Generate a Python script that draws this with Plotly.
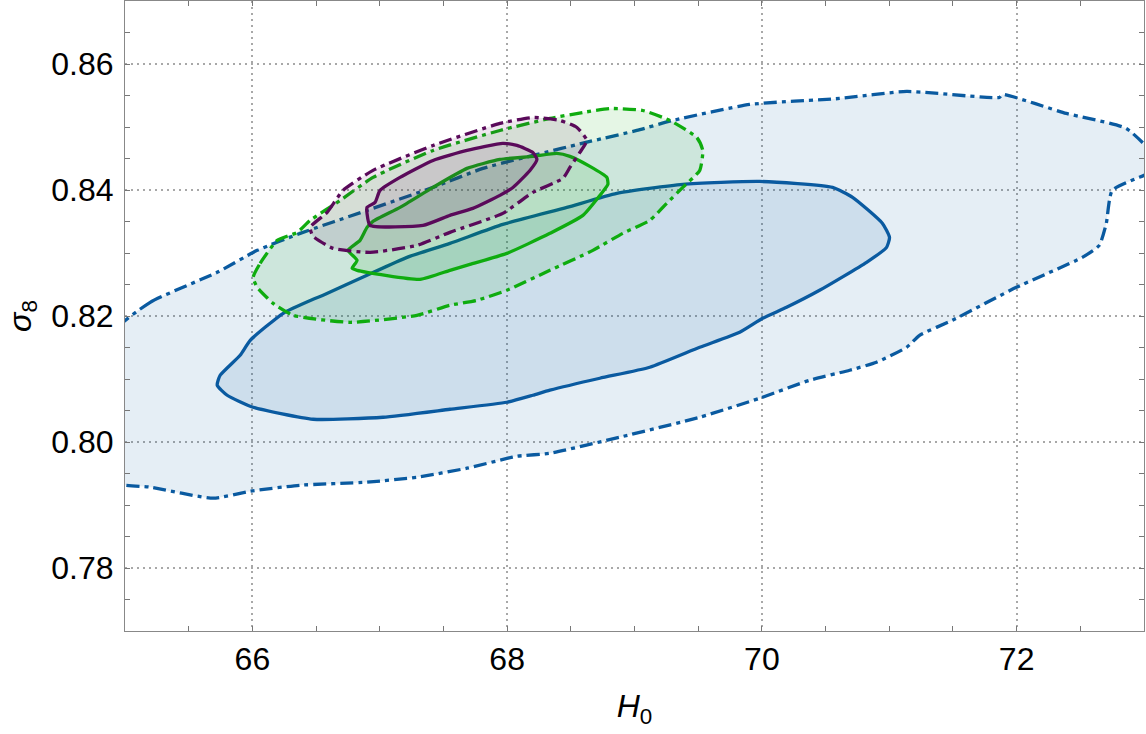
import plotly.graph_objects as go

# ---- data (H0, sigma8) ----
blue_outer_h0 = [64.885, 65.198, 65.724, 66.038, 66.375, 66.900, 67.418, 67.810, 68.202, 68.650,
                 69.018, 69.300, 69.904, 70.610, 71.136, 71.865, 71.889, 72.390, 72.861, 73.120,
                 73.120, 72.751, 72.704, 72.649, 72.516, 71.998, 71.496, 71.238, 71.136, 70.900,
                 70.689, 70.375, 69.983, 69.512, 68.883, 68.336, 68.077, 68.006, 67.685, 67.292,
                 66.900, 66.375, 65.983, 65.693, 65.198, 64.885]
blue_outer_s8 = [0.8169, 0.82217, 0.82693, 0.83042, 0.83312, 0.83676, 0.84041, 0.84343, 0.84549, 0.84771,
                 0.84945, 0.85104, 0.85358, 0.85453, 0.85564, 0.85469, 0.85516, 0.85215, 0.84977, 0.84461,
                 0.84349, 0.83994, 0.83470, 0.83121, 0.82931, 0.82455, 0.81932, 0.81694, 0.81503, 0.81266,
                 0.81139, 0.80980, 0.80695, 0.80393, 0.80076, 0.79822, 0.79774, 0.79743, 0.79584, 0.79441,
                 0.79362, 0.79314, 0.79219, 0.79108, 0.79283, 0.7938]

blue_inner_h0 = [66.477, 66.555, 66.900, 67.214, 67.551, 67.966, 68.469, 68.861, 69.379, 69.983,
                 70.555, 70.712, 70.947, 71.002, 70.979, 70.822, 70.453, 70.194, 70.006, 69.826,
                 69.512, 69.120, 68.728, 68.336, 68.202, 67.998, 67.551, 67.026, 66.477, 66.006,
                 65.802, 65.724, 65.747, 65.904, 65.983, 66.242]
blue_inner_s8 = [0.82265, 0.82329, 0.82646, 0.82931, 0.83153, 0.83454, 0.83724, 0.83946, 0.84089, 0.84136,
                 0.84041, 0.83883, 0.83470, 0.83248, 0.83090, 0.82852, 0.82408, 0.82138, 0.81963, 0.81741,
                 0.81503, 0.81186, 0.81012, 0.80822, 0.80742, 0.80631, 0.80520, 0.80393, 0.80361, 0.80552,
                 0.80742, 0.80901, 0.81059, 0.81377, 0.81614, 0.82043]

green_outer_h0 = [66.006, 66.061, 66.195, 66.352, 66.453, 66.689, 66.947, 67.418, 67.943, 68.336,
                  68.595, 68.806, 69.065, 69.277, 69.489, 69.536, 69.512, 69.379, 69.253, 69.120,
                  68.908, 68.673, 68.336, 67.998, 67.763, 67.551, 67.292, 66.767, 66.320, 66.163,
                  66.038]
green_outer_s8 = [0.82614, 0.82836, 0.83201, 0.83328, 0.83518, 0.83835, 0.84200, 0.84628, 0.84945, 0.85136,
                  0.85231, 0.85294, 0.85262, 0.85104, 0.84834, 0.84628, 0.84311, 0.84041, 0.83788, 0.83518,
                  0.83312, 0.83042, 0.82725, 0.82408, 0.82249, 0.82170, 0.82011, 0.81900, 0.82011, 0.82201,
                  0.82455]

green_inner_h0 = [66.751, 66.845, 66.900, 66.947, 67.159, 67.418, 67.685, 67.943, 68.202, 68.391,
                  68.493, 68.650, 68.783, 68.791, 68.728, 68.595, 68.336, 67.998, 67.708, 67.551,
                  67.316, 66.822, 66.783, 66.822]
green_inner_s8 = [0.83042, 0.83201, 0.83407, 0.83502, 0.83724, 0.84041, 0.84343, 0.84485, 0.84533, 0.84580,
                  0.84533, 0.84374, 0.84200, 0.84089, 0.83914, 0.83597, 0.83312, 0.82994, 0.82820, 0.82725,
                  0.82582, 0.82725, 0.82757, 0.82884]

purple_outer_h0 = [66.453, 66.587, 66.712, 66.947, 67.418, 67.943, 68.202, 68.414, 68.548, 68.626,
                   68.571, 68.493, 68.438, 68.202, 67.966, 67.551, 67.292, 66.924, 66.634, 66.477]
purple_outer_s8 = [0.83407, 0.83645, 0.83994, 0.84311, 0.84707, 0.85056, 0.85151, 0.85104, 0.84993, 0.84787,
                   0.84596, 0.84358, 0.84184, 0.83962, 0.83629, 0.83328, 0.83121, 0.83010, 0.83074, 0.83264]

purple_inner_h0 = [66.924, 66.900, 66.900, 66.963, 67.002, 67.159, 67.418, 67.685, 67.966, 68.077,
                   68.202, 68.234, 68.179, 68.046, 67.943, 67.731, 67.551, 67.340]
purple_inner_s8 = [0.83438, 0.83629, 0.83724, 0.83803, 0.83994, 0.84200, 0.84469, 0.84628, 0.84739, 0.84707,
                   0.84596, 0.84485, 0.84311, 0.84041, 0.83914, 0.83708, 0.83597, 0.83438]

x_ticks = [66, 68, 70, 72]
y_ticks = [0.78, 0.80, 0.82, 0.84, 0.86]

BLUE = "#0a5aa0"
GREEN = "#0fac0f"
PURPLE = "#5a0a5a"
DASHDOT = "13px,5px,4px,5px"

fig = go.Figure()


def add_contour(h, s, color, fill, dash):
    fig.add_trace(go.Scatter(
        x=h + [h[0]], y=s + [s[0]], mode="lines", fill="toself", fillcolor=fill,
        line=dict(color=color, width=3.3, dash=dash, shape="spline", smoothing=0.5),
        hoverinfo="skip", showlegend=False))


add_contour(blue_outer_h0, blue_outer_s8, BLUE, "rgba(0,85,160,0.10)", DASHDOT)
add_contour(blue_inner_h0, blue_inner_s8, BLUE, "rgba(0,85,160,0.10)", "solid")
add_contour(green_outer_h0, green_outer_s8, GREEN, "rgba(0,170,0,0.10)", DASHDOT)
add_contour(green_inner_h0, green_inner_s8, GREEN, "rgba(0,170,0,0.10)", "solid")
add_contour(purple_outer_h0, purple_outer_s8, PURPLE, "rgba(90,10,90,0.10)", DASHDOT)
add_contour(purple_inner_h0, purple_inner_s8, PURPLE, "rgba(90,10,90,0.10)", "solid")

axis_common = dict(
    ticks="inside", ticklen=5, tickcolor="#777", tickwidth=1,
    showline=True, linecolor="#888", linewidth=1, mirror="allticks",
    showgrid=True, gridcolor="#a8a8a8", griddash="2px,4px", gridwidth=1.5,
    zeroline=False,
    tickfont=dict(family="Liberation Sans", size=32, color="black"),
)

fig.update_layout(
    width=1146, height=734,
    margin=dict(l=125, r=2, t=1, b=103),
    paper_bgcolor="white", plot_bgcolor="white",
    xaxis=dict(range=[65, 73], tickvals=x_ticks, ticktext=[str(v) for v in x_ticks],
               minor=dict(dtick=0.5, tick0=65, ticks="inside", ticklen=5, tickcolor="#777", showgrid=False),
               title=dict(text="<i>H</i><sub>0</sub>", standoff=18,
                          font=dict(family="Liberation Sans", size=32, color="black")),
               **axis_common),
    yaxis=dict(range=[0.77, 0.87], tickvals=y_ticks, ticktext=[f"{v:.2f}" for v in y_ticks],
               minor=dict(dtick=0.005, tick0=0.77, ticks="inside", ticklen=5, tickcolor="#777", showgrid=False),
               title=dict(text="<i>σ</i><sub>8</sub>", standoff=10,
                          font=dict(family="Liberation Sans", size=32, color="black")),
               ticklabelstandoff=4,
               **axis_common),
)

fig.write_html("out.html")
